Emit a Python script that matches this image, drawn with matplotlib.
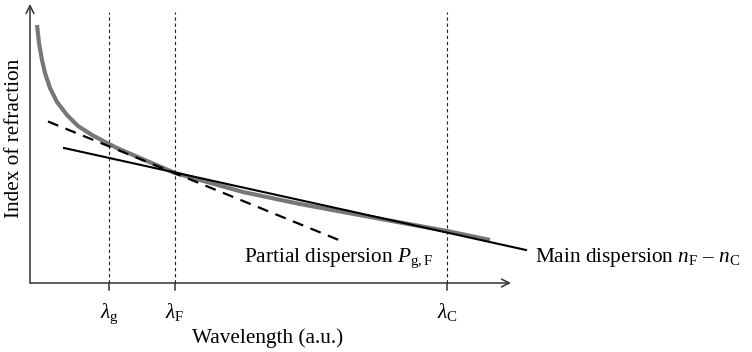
import matplotlib
matplotlib.use("Agg")
import matplotlib.pyplot as plt

plt.rcParams['font.family'] = ['Liberation Serif', 'DejaVu Serif']
plt.rcParams['mathtext.fontset'] = 'custom'
plt.rcParams['mathtext.rm'] = 'Liberation Serif'
plt.rcParams['mathtext.it'] = 'Liberation Serif:italic'

# gray index curve (wavelength, index), arbitrary units
curve_x = [7, 9, 12, 15, 20, 27, 37, 48, 62, 77, 87, 110, 145, 213, 270, 340, 417, 460]
curve_y = [258, 240, 223, 210, 195, 181, 168, 157, 148, 140, 135, 125, 110, 91, 79, 66, 52, 43]

# partial dispersion line (dashed) and main dispersion line (solid)
partial_x = [18, 310]
partial_y = [161.5, 42.5]
main_x = [34, 496]
main_y = [135, 33]

# marked wavelengths
lam_pos = [79, 145, 417]
lam_labels = [r'$\lambda_{\mathrm{g}}$', r'$\lambda_{\mathrm{F}}$', r'$\lambda_{\mathrm{C}}$']

fs = 15.3
fig = plt.figure(figsize=(7.52, 3.52), dpi=100)
ax = fig.add_axes([0, 0, 1, 1])
ax.set_xlim(-30, 722)
ax.set_ylim(-69, 283)
ax.axis('off')

axcol = '#333333'
# axes with open arrow heads
ax.annotate('', xy=(481, 0), xytext=(0, 0),
            arrowprops=dict(arrowstyle='->', color=axcol, lw=1.1, shrinkA=0, shrinkB=0,
                            mutation_scale=14))
ax.annotate('', xy=(0, 279), xytext=(0, 0),
            arrowprops=dict(arrowstyle='->', color=axcol, lw=1.1, shrinkA=0, shrinkB=0,
                            mutation_scale=14))

for x, lab in zip(lam_pos, lam_labels):
    ax.plot([x, x], [0, 271], color='#222222', lw=0.8, ls=(0, (3, 2.5)))
    ax.plot([x, x], [0, -7], color=axcol, lw=1.1)
    ax.text(x, -35, lab, ha='center', va='baseline', fontsize=fs)

ax.plot(curve_x, curve_y, color='#777777', lw=3, solid_capstyle='butt', solid_joinstyle='round')
ax.plot(partial_x, partial_y, color='black', lw=1.6, ls=(0, (5, 3.5)))
ax.plot(main_x, main_y, color='black', lw=1.5)

ax.text(214, 21, r'Partial dispersion $P_{\mathrm{g,F}}$', ha='left', va='baseline', fontsize=fs)
ax.text(505, 21, r'Main dispersion $n_{\mathrm{F}}$ – $n_{\mathrm{C}}$', ha='left', va='baseline', fontsize=fs)
ax.text(237.5, -60, 'Wavelength (a.u.)', ha='center', va='baseline', fontsize=fs)
ax.text(-15, 145, 'Index of refraction', ha='center', va='center', rotation=90, fontsize=fs)

fig.savefig('out.png', dpi=100)
